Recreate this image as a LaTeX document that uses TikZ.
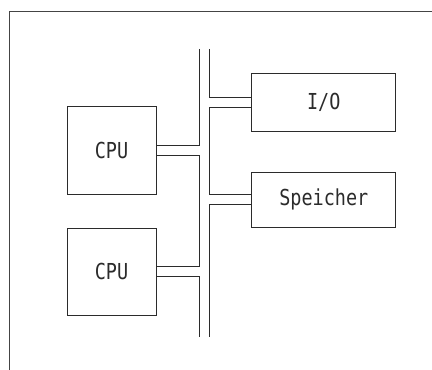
\documentclass[tikz,border=0pt]{standalone}
\usepackage{fontspec}
\newfontfamily\plotfont[FakeStretch=0.84]{DejaVu Sans Mono}
\definecolor{bsInk}{HTML}{2B2B2B}
\definecolor{bsFrame}{HTML}{444444}

\begin{document}
\begin{tikzpicture}[x=1pt,y=1pt,
  font=\plotfont\fontsize{22}{25}\selectfont,
  box/.style={draw=bsInk,line width=1pt,minimum width=89pt,minimum height=88pt,
              inner sep=0pt,text=bsInk},
  wbox/.style={box,minimum width=143.7pt,minimum height=56pt},
  bus/.style={draw=bsInk,line width=1pt}
]
\useasboundingbox (0,0) rectangle (432,370);
\draw[bsFrame,line width=0.8pt] (9,-10) rectangle (445,359);

\node[box]                        (cpuA) at (111.5,219.2) {CPU};
\node[box,minimum height=86.7pt]  (cpuB) at (111.5,98.3)  {CPU};
\node[wbox,minimum height=57.7pt] (io)   at (323.8,267.8) {I/O};
\node[wbox,minimum height=55pt]   (mem)  at (323.8,170.2) {Speicher};

% two bus rails
\coordinate (busLtop) at (199.5,321);
\coordinate (busLbot) at (199.5,33);
\coordinate (busRtop) at (209.5,321);
\coordinate (busRbot) at (209.5,33);

\draw[bus] (busLtop) |- ([yshift=5pt]cpuA.east);
\draw[bus] ([yshift=-5pt]cpuA.east) -| ([yshift=5pt]cpuB.east -| busLtop) -- ([yshift=5pt]cpuB.east);
\draw[bus] ([yshift=-5pt]cpuB.east) -| (busLbot);

\draw[bus] (busRtop) |- ([yshift=5pt]io.west);
\draw[bus] ([yshift=-5pt]io.west) -| ([yshift=5pt]mem.west -| busRtop) -- ([yshift=5pt]mem.west);
\draw[bus] ([yshift=-5pt]mem.west) -| (busRbot);
\end{tikzpicture}
\end{document}
